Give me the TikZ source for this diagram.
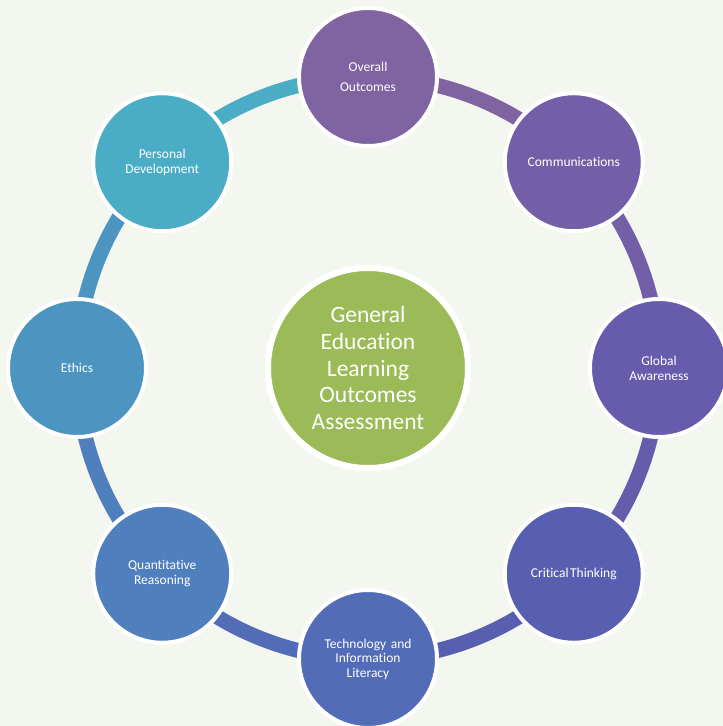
\documentclass[tikz,border=0pt]{standalone}
\usepackage{fontspec}
\setmainfont[Ligatures=NoCommon]{Carlito}
\pgfdeclarelayer{bg}
\pgfdeclarelayer{ring}
\pgfsetlayers{bg,ring,main}
\definecolor{bgc}{HTML}{F4F7EF}
\definecolor{cA}{HTML}{8064A2}
\definecolor{cB}{HTML}{735FA8}
\definecolor{cC}{HTML}{665CAB}
\definecolor{cD}{HTML}{585FB1}
\definecolor{cE}{HTML}{526CB8}
\definecolor{cF}{HTML}{4F80BD}
\definecolor{cG}{HTML}{4D95C1}
\definecolor{cH}{HTML}{4BACC6}
\definecolor{cCenter}{HTML}{9BBB59}
\begin{document}
\begin{tikzpicture}[x=1pt,y=1pt,
  outer/.style={circle,draw=white,line width=4pt,minimum size=138pt,inner sep=0pt,
    text=white,align=center,text width=112pt,font=\fontsize{13.5}{15}\selectfont},
  hub/.style={circle,draw=white,line width=6pt,minimum size=200pt,inner sep=0pt,
    fill=cCenter,text=white,align=center,text width=130pt,font=\fontsize{23.5}{26.7}\selectfont},
  ringseg/.style={line width=15pt,bend left=22.5,looseness=0.885}]
\begin{pgfonlayer}{bg}
\fill[bgc] (-368,-358) rectangle (355,368);
\end{pgfonlayer}
\useasboundingbox (-368,-358) rectangle (355,368);

\node[hub] (c) at (0,0) {General\\Education\\Learning\\Outcomes\\Assessment};

\node[outer,fill=cA,font=\fontsize{13.5}{20}\selectfont] (n0) at (90:291) {Overall\\Outcomes};
\node[outer,fill=cB] (n1) at (45:291) {Communications};
\node[outer,fill=cC] (n2) at (0:291) {Global\\Awareness};
\node[outer,fill=cD] (n3) at (-45:291) {Critical\hspace{1.5pt}Thinking};
\node[outer,fill=cE,font=\fontsize{13.5}{14.5}\selectfont] (n4) at (-90:291) {Technology and\\Information\\Literacy};
\node[outer,fill=cF] (n5) at (-135:291) {Quantitative\\Reasoning};
\node[outer,fill=cG] (n6) at (180:291) {Ethics};
\node[outer,fill=cH] (n7) at (135:291) {Personal\\Development};

\begin{pgfonlayer}{ring}
\draw[ringseg,cA] (n0.center) to (n1.center);
\draw[ringseg,cB] (n1.center) to (n2.center);
\draw[ringseg,cC] (n2.center) to (n3.center);
\draw[ringseg,cD] (n3.center) to (n4.center);
\draw[ringseg,cE] (n4.center) to (n5.center);
\draw[ringseg,cF] (n5.center) to (n6.center);
\draw[ringseg,cG] (n6.center) to (n7.center);
\draw[ringseg,cH] (n7.center) to (n0.center);
\end{pgfonlayer}
\end{tikzpicture}
\end{document}
